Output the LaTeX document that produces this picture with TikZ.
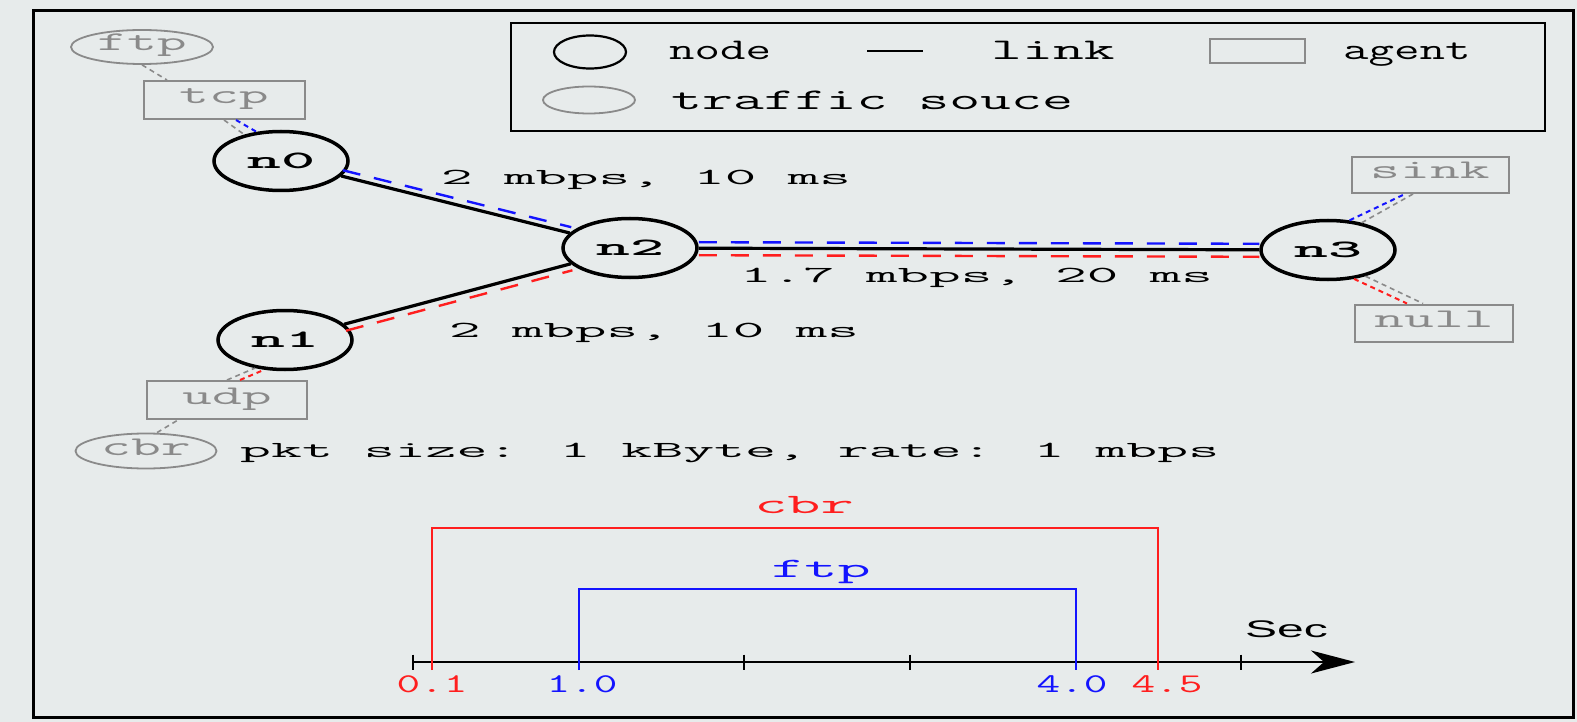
\documentclass[tikz,border=0pt]{standalone}
\usepackage{graphicx}
\usepackage{fontspec}
\newfontfamily\secfont{Liberation Sans}
\usetikzlibrary{shapes.geometric,arrows.meta}

\definecolor{paper}{RGB}{231,235,235}
\definecolor{agentgray}{RGB}{138,138,138}
\definecolor{flowred}{RGB}{255,30,30}
\definecolor{flowblue}{RGB}{20,20,255}

% widened typewriter text: size, horizontal stretch, text
\newcommand\widett[3]{\scalebox{#2}[1]{\fontsize{#1}{#1}\selectfont\ttfamily #3}}
% bold node name
\newcommand\nodename[1]{\scalebox{2.6}[1]{\fontsize{25}{25}\selectfont\ttfamily\bfseries #1}}

\begin{document}
\begin{tikzpicture}[x=1pt,y=-1pt,
  netnode/.style={ellipse,draw=black,line width=3.5pt,minimum width=134pt,
    minimum height=59pt,inner sep=0pt,text height=15pt,text depth=0pt},
  agentbox/.style={rectangle,draw=agentgray,line width=2pt,inner sep=0pt,
    text=agentgray,text height=16pt,text depth=8pt},
  srcell/.style={ellipse,draw=agentgray,line width=1.8pt,inner sep=0pt,
    text=agentgray,text height=16pt,text depth=8pt},
  txt/.style={inner sep=0pt,anchor=base west},
  linkline/.style={line width=3.2pt,black},
  flowb/.style={flowblue,line width=2.4pt,dash pattern=on 18pt off 14pt},
  flowr/.style={flowred,line width=2.4pt,dash pattern=on 18pt off 14pt},
  shortb/.style={flowblue,line width=2pt,dash pattern=on 5pt off 4pt},
  shortr/.style={flowred,line width=2pt,dash pattern=on 5pt off 4pt},
  attach/.style={agentgray,line width=1.6pt,dash pattern=on 5pt off 4pt},
]
\useasboundingbox (0,0) rectangle (1577,722);
\fill[paper] (0,0) rectangle (1577,722);

% outer frame and legend
\draw[line width=3pt] (33,11) rectangle (1573,717);
\draw[line width=2.8pt] (511,23) rectangle (1545,131);

\node[ellipse,draw=black,line width=2.2pt,minimum width=72pt,minimum height=33pt,inner sep=0pt] (lgnode) at (590,52) {};
\node[txt] (lgnodetext) at (669,60) {\widett{30}{1.65}{node}};
\coordinate (lglinkA) at (867,51);
\coordinate (lglinkB) at (923,51);
\draw[line width=2pt] (lglinkA) -- (lglinkB);
\node[txt] (lglinktext) at (991,60) {\widett{30}{2.0}{link}};
\node[rectangle,draw=agentgray,line width=2pt,minimum width=95pt,minimum height=24pt,inner sep=0pt] (lgagent) at (1257,51) {};
\node[txt] (lgagenttext) at (1343,60) {\widett{30}{1.65}{agent}};
\node[ellipse,draw=agentgray,line width=1.8pt,minimum width=92pt,minimum height=27pt,inner sep=0pt] (lgsrc) at (589,100) {};
\node[txt] (lgsrctext) at (671,110) {\widett{30}{2.0}{traffic souce}};

% network nodes
\node[netnode] (n0) at (281,161) {\nodename{n0}};
\node[netnode] (n2) at (630,248) {\nodename{n2}};
\node[netnode] (n1) at (285,340) {\nodename{n1}};
\node[netnode] (n3) at (1328,250) {\nodename{n3}};

% links
\draw[linkline] (n0) -- (n2);
\draw[linkline] (n1) -- (n2);
\draw[linkline] (n2) -- (n3);

% flows along the links
\draw[flowb,transform canvas={xshift=1.5pt,yshift=5.8pt}] (n0) -- (n2);
\draw[flowr,transform canvas={xshift=1.7pt,yshift=-6.5pt}] (n1) -- (n2);
\draw[flowb,transform canvas={yshift=6pt}] (n2) -- (n3);
\draw[flowr,transform canvas={yshift=-7pt}] (n2) -- (n3);

% link labels
\node[txt] (l02) at (441,185) {\widett{23}{2.66}{2 mbps, 10 ms}};
\node[txt] (l12) at (449,337) {\widett{23}{2.66}{2 mbps, 10 ms}};
\node[txt] (l23) at (740,283) {\widett{23}{2.66}{1.7 mbps, 20 ms}};

% agents and traffic sources
\node[srcell,minimum width=142pt,minimum height=34pt] (ftp) at (142,47) {\widett{27}{2.15}{ftp}};
\node[agentbox,minimum width=161pt,minimum height=38pt] (tcp) at (224,100) {\widett{27}{2.15}{tcp}};
\node[agentbox,minimum width=157pt,minimum height=36pt] (sink) at (1430,175) {\widett{27}{2.15}{sink}};
\node[agentbox,minimum width=158pt,minimum height=37pt] (null) at (1434,323) {\widett{27}{2.15}{null}};
\node[agentbox,minimum width=160pt,minimum height=38pt] (udp) at (227,400) {\widett{27}{2.15}{udp}};
\node[srcell,minimum width=141pt,minimum height=35pt] (cbr) at (146,451) {\widett{27}{2.15}{cbr}};

% attachments
\draw[attach] (ftp.south) -- ([xshift=-57pt]tcp.north);
\draw[attach] (tcp.south) -- (n0);
\draw[shortb] ([xshift=12pt]tcp.south) -- (n0.130);
\draw[attach] (n3.39) -- ([xshift=-17pt]sink.south);
\draw[shortb] (n3.54) -- ([xshift=-25pt]sink.south);
\draw[attach] (n3.-35) -- ([xshift=-11pt]null.north);
\draw[shortr] (n3.-48) -- ([xshift=-27pt]null.north);
\draw[attach] (udp.north) -- (n1.-137);
\draw[shortr] ([xshift=13pt]udp.north) -- (n1.-125);
\draw[attach] ([xshift=11pt]cbr.north) -- ([xshift=-49pt]udp.south);

\node[txt] (pkt) at (240,457) {\widett{23}{2.61}{pkt size: 1 kByte, rate: 1 mbps}};

% time line
\coordinate (ax0) at (413,662);
\coordinate (ax1) at (1355,662);
\draw[line width=2.2pt,-{Stealth[length=44pt,width=23pt,inset=13pt]}] (ax0) -- (ax1);
\foreach \t/\nm in {413/ta,744/tb,910/tc,1241/td}{
  \coordinate (\nm) at (\t,662);
  \draw[line width=2.8pt] ([yshift=7.5pt]\nm) -- ([yshift=-7.5pt]\nm);
}
\coordinate (cbrA) at (432,670);
\coordinate (cbrB) at (1158,670);
\coordinate (cbrTop) at (795,528);
\draw[flowred,line width=2.8pt] (cbrA) |- (cbrTop) -| (cbrB);
\coordinate (ftpA) at (579,670);
\coordinate (ftpB) at (1076,670);
\coordinate (ftpTop) at (827,589);
\draw[flowblue,line width=2.8pt] (ftpA) |- (ftpTop) -| (ftpB);

\node[inner sep=0pt,anchor=base,text=flowred] (cbrlbl) at (804,513) {\widett{28}{2.3}{cbr}};
\node[inner sep=0pt,anchor=base,text=flowblue] (ftplbl) at (821,577) {\widett{28}{2.3}{ftp}};
\node[inner sep=0pt,anchor=base,text=flowred] (t01) at (432,692) {\widett{27}{1.7}{0.1}};
\node[inner sep=0pt,anchor=base,text=flowblue] (t10) at (582,692) {\widett{27}{1.7}{1.0}};
\node[inner sep=0pt,anchor=base,text=flowblue] (t40) at (1072,692) {\widett{27}{1.7}{4.0}};
\node[inner sep=0pt,anchor=base,text=flowred] (t45) at (1167,692) {\widett{27}{1.7}{4.5}};
\node[txt] (sec) at (1245,637) {\scalebox{2.0}[1]{\fontsize{24}{24}\selectfont\secfont Sec}};
\end{tikzpicture}
\end{document}
